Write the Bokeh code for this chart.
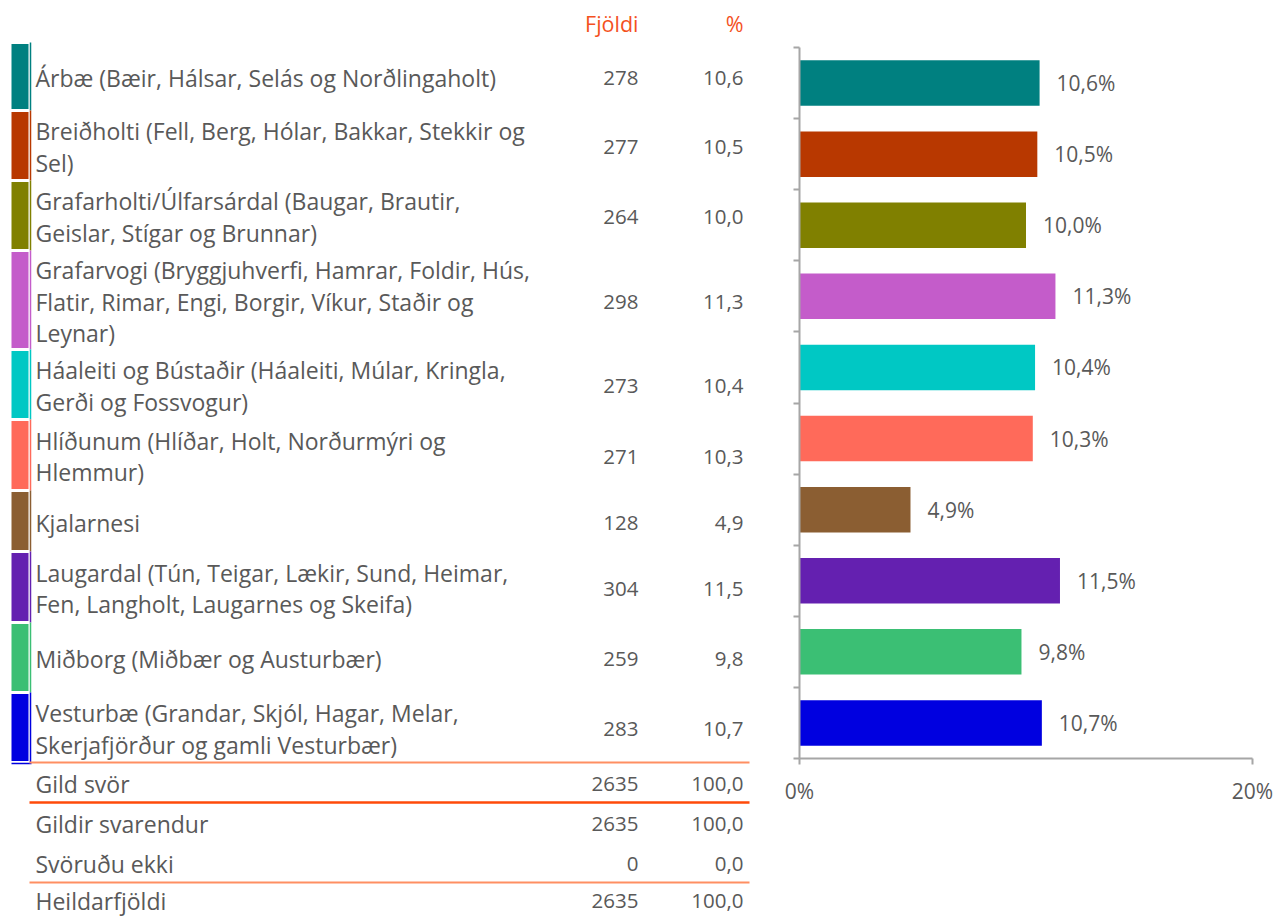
from bokeh.plotting import figure
from bokeh.layouts import row
from bokeh.models import Range1d, FixedTicker, ColumnDataSource
from bokeh.core.properties import value
from bokeh.embed import file_html
from bokeh.resources import INLINE

# ---------------- data ----------------
regions = [
    "Árbæ (Bæir, Hálsar, Selás og Norðlingaholt)",
    "Breiðholti (Fell, Berg, Hólar, Bakkar, Stekkir og\nSel)",
    "Grafarholti/Úlfarsárdal (Baugar, Brautir,\nGeislar, Stígar og Brunnar)",
    "Grafarvogi (Bryggjuhverfi, Hamrar, Foldir, Hús,\nFlatir, Rimar, Engi, Borgir, Víkur, Staðir og\nLeynar)",
    "Háaleiti og Bústaðir (Háaleiti, Múlar, Kringla,\nGerði og Fossvogur)",
    "Hlíðunum (Hlíðar, Holt, Norðurmýri og\nHlemmur)",
    "Kjalarnesi",
    "Laugardal (Tún, Teigar, Lækir, Sund, Heimar,\nFen, Langholt, Laugarnes og Skeifa)",
    "Miðborg (Miðbær og Austurbær)",
    "Vesturbæ (Grandar, Skjól, Hagar, Melar,\nSkerjafjörður og gamli Vesturbær)",
]
counts = [278, 277, 264, 298, 273, 271, 128, 304, 259, 283]
percents = [10.6, 10.5, 10.0, 11.3, 10.4, 10.3, 4.9, 11.5, 9.8, 10.7]
colors = ["#008080", "#B83800", "#808000", "#C45CCA", "#00C8C4",
          "#FF6A5A", "#8B5E32", "#6420B0", "#3BBF74", "#0000E0"]

summary_labels = ["Gild svör", "Gildir svarendur", "Svöruðu ekki", "Heildarfjöldi"]
summary_counts = [2635, 2635, 0, 2635]
summary_percents = [100.0, 100.0, 0.0, 100.0]

col_headers = ["Fjöldi", "%"]
axis_ticks = [0, 20]

# ---------------- style / layout ----------------
FONT = value("Open Sans")
TXT = "#595959"
HEAD = "#F4511E"
LIGHT_OR = "#FF8F62"
DARK_OR = "#FF4A0A"
FS_LAB = "23px"
FS_NUM = "20.5px"
FS_HEAD = "21.5px"
LINE_H = 31.5
row_bounds = [42, 110, 180, 250, 349, 419, 490, 551, 622, 692, 762]
summary_y = [783, 823, 863, 900]
X_LABEL = 35
X_COUNT = 638
X_PCT = 743

def fmt(v):
    return f"{v:.1f}".replace(".", ",")

# ---------------- left table ----------------
p1 = figure(width=770, height=917, x_range=Range1d(0, 770), y_range=Range1d(917, 0),
            output_backend="svg", toolbar_location=None, min_border=0)
try:
    p1.frame_align = False
except Exception:
    pass
p1.axis.visible = False
p1.grid.visible = False
p1.outline_line_color = None

# headers
p1.text(x=[X_COUNT, X_PCT], y=[23, 23], text=col_headers, text_font=FONT,
        text_font_size=FS_HEAD, text_color=HEAD, text_align="right", text_baseline="middle")

# swatches and thin row lines
tops = [row_bounds[i] + 1.5 for i in range(len(regions))]
bots = [row_bounds[i + 1] - 1.5 for i in range(len(regions))]
p1.quad(left=11, right=28, top=tops, bottom=bots, fill_color=colors, line_color=None)
p1.segment(x0=30, x1=30, y0=row_bounds[:-1], y1=row_bounds[1:], line_color=colors, line_width=1.5)
p1.segment(x0=[11], x1=[31], y0=[763], y1=[763], line_color=colors[-1], line_width=1.5)

# row texts
lx, ly, lt = [], [], []
cy = []
for i, lab in enumerate(regions):
    c = (row_bounds[i] + row_bounds[i + 1]) / 2 + 1.5
    cy.append(c)
    lines = lab.split("\n")
    n = len(lines)
    for k, ln in enumerate(lines):
        lx.append(X_LABEL)
        ly.append(c + (k - (n - 1) / 2) * LINE_H)
        lt.append(ln)
p1.text(x=lx, y=ly, text=lt, text_font=FONT, text_font_size=FS_LAB, text_color=TXT,
        text_align="left", text_baseline="middle")
p1.text(x=X_COUNT, y=cy, text=[str(c) for c in counts], text_font=FONT, text_font_size=FS_NUM,
        text_color=TXT, text_align="right", text_baseline="middle")
p1.text(x=X_PCT, y=cy, text=[fmt(v) for v in percents], text_font=FONT, text_font_size=FS_NUM,
        text_color=TXT, text_align="right", text_baseline="middle")

# summary rows
p1.text(x=X_LABEL, y=summary_y, text=summary_labels, text_font=FONT, text_font_size=FS_LAB,
        text_color=TXT, text_align="left", text_baseline="middle")
p1.text(x=X_COUNT, y=summary_y, text=[str(c) for c in summary_counts], text_font=FONT,
        text_font_size=FS_NUM, text_color=TXT, text_align="right", text_baseline="middle")
p1.text(x=X_PCT, y=summary_y, text=[fmt(v) for v in summary_percents], text_font=FONT,
        text_font_size=FS_NUM, text_color=TXT, text_align="right", text_baseline="middle")

# separator lines
p1.segment(x0=[29, 29], x1=[749, 749], y0=[762, 882], y1=[762, 882], line_color=LIGHT_OR, line_width=2)
p1.segment(x0=[29], x1=[749], y0=[802], y1=[802], line_color=DARK_OR, line_width=2.5)

# ---------------- right bar chart ----------------
p2 = figure(width=504, height=917, x_range=Range1d(0, 20), y_range=Range1d(len(regions), 0),
            output_backend="svg", toolbar_location=None,
            min_border_left=29, min_border_right=22, min_border_top=47, min_border_bottom=159)
try:
    p2.frame_align = False
except Exception:
    pass
p2.grid.visible = False
p2.outline_line_color = None

ys = [i + 0.5 for i in range(len(regions))]
src = ColumnDataSource(dict(y=ys, v=percents, c=colors, lab=[fmt(v) + "%" for v in percents]))
p2.hbar(y="y", left=0, right="v", height=0.64, fill_color="c", line_color=None, source=src)
p2.text(x="v", y="y", text="lab", x_offset=17, source=src, text_font=FONT, text_font_size="21px",
        text_color=TXT, text_align="left", text_baseline="middle")

p2.xaxis.ticker = FixedTicker(ticks=axis_ticks)
p2.xaxis.major_label_overrides = {0: "0%", 20: "20%"}
p2.xaxis.minor_tick_line_color = None
p2.xaxis.major_tick_in = 0
p2.xaxis.major_tick_out = 6
p2.xaxis.major_label_standoff = 12
p2.xaxis.major_label_text_font = "Open Sans"
p2.xaxis.major_label_text_font_size = "21px"
p2.xaxis.major_label_text_color = TXT

p2.yaxis.ticker = FixedTicker(ticks=list(range(len(regions) + 1)))
p2.yaxis.major_label_overrides = {i: "" for i in range(len(regions) + 1)}
p2.yaxis.minor_tick_line_color = None
p2.yaxis.major_tick_in = 0
p2.yaxis.major_tick_out = 6

for ax in (p2.xaxis, p2.yaxis):
    ax.axis_line_color = "#A6A6A6"
    ax.axis_line_width = 2
    ax.major_tick_line_color = "#A6A6A6"
    ax.major_tick_line_width = 2

layout = row(p1, p2, spacing=0)
open("out.html", "w").write(file_html(layout, INLINE))
